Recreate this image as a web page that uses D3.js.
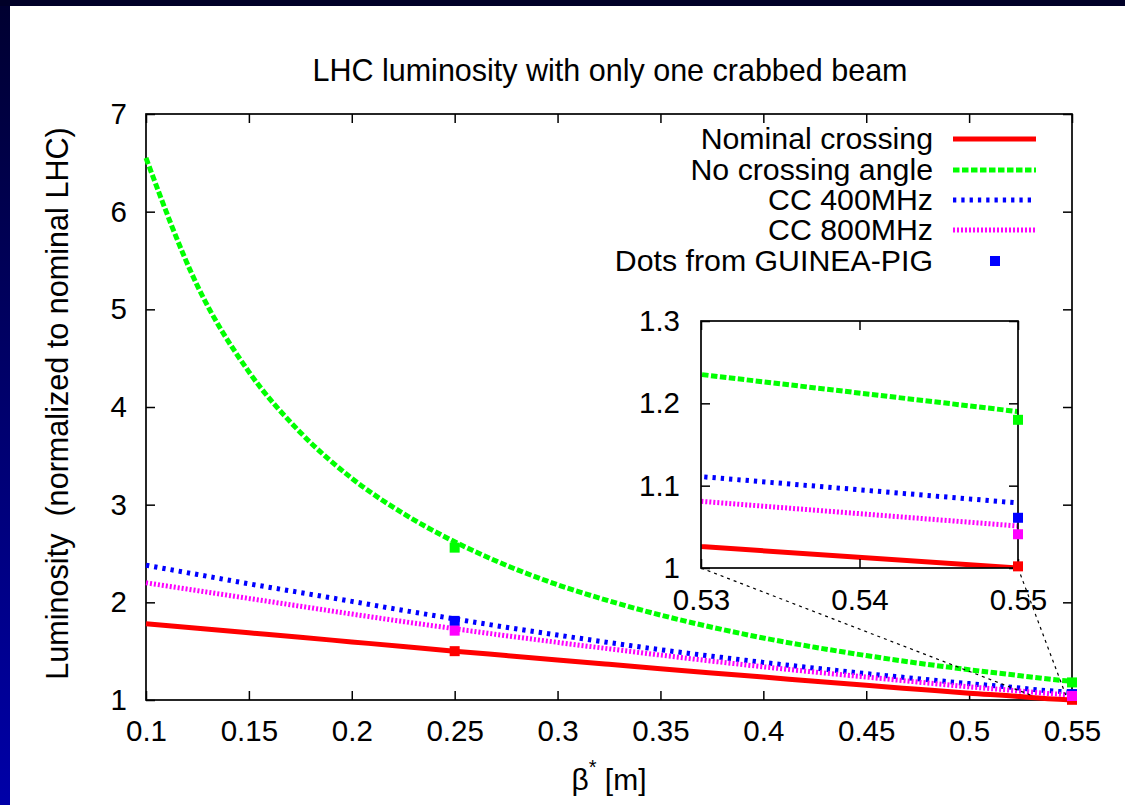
<!DOCTYPE html>
<html>
<head>
<meta charset="utf-8">
<script src="https://cdn.jsdelivr.net/npm/d3@7"></script>
<style>
  html, body { margin: 0; padding: 0; background: #fff; }
  svg { display: block; }
  text { font-family: "Liberation Sans", Arial, Helvetica, sans-serif; fill: #000; }
</style>
</head>
<body>
<svg id="chart" width="1125" height="805"></svg>
<script>
// ---------------- data ----------------
const betaStar = [0.1, 0.125, 0.15, 0.175, 0.2, 0.225, 0.25, 0.275, 0.3, 0.325, 0.35, 0.375, 0.4, 0.425, 0.45, 0.475, 0.5, 0.525, 0.53, 0.55];
const nominalCrossing = [1.78, 1.734, 1.688, 1.642, 1.595, 1.548, 1.50, 1.455, 1.41, 1.365, 1.32, 1.277, 1.235, 1.192, 1.15, 1.11, 1.07, 1.035, 1.026, 1.0];
const noCrossingAngle = [6.55, 5.24, 4.36, 3.74, 3.27, 2.91, 2.62, 2.38, 2.18, 2.015, 1.87, 1.745, 1.635, 1.54, 1.455, 1.378, 1.31, 1.248, 1.235, 1.19];
const cc400 = [2.38, 2.285, 2.19, 2.10, 2.01, 1.918, 1.83, 1.745, 1.665, 1.588, 1.515, 1.448, 1.385, 1.326, 1.27, 1.218, 1.168, 1.122, 1.111, 1.079];
const cc800 = [2.2, 2.12, 2.04, 1.96, 1.88, 1.803, 1.73, 1.658, 1.59, 1.524, 1.46, 1.398, 1.34, 1.286, 1.235, 1.184, 1.135, 1.091, 1.081, 1.051];

const dotBeta = [0.25, 0.55];
const dotsNominal = [1.50, 1.002];
const dotsNoCrossing = [2.56, 1.18];
const dotsCC400 = [1.81, 1.061];
const dotsCC800 = [1.71, 1.041];

const xTicks = [0.1, 0.15, 0.2, 0.25, 0.3, 0.35, 0.4, 0.45, 0.5, 0.55];
const xTickLabels = ["0.1", "0.15", "0.2", "0.25", "0.3", "0.35", "0.4", "0.45", "0.5", "0.55"];
const yTicks = [1, 2, 3, 4, 5, 6, 7];
const yTickLabels = ["1", "2", "3", "4", "5", "6", "7"];
const insetXTicks = [0.53, 0.54, 0.55];
const insetXTickLabels = ["0.53", "0.54", "0.55"];
const insetYTicks = [1, 1.1, 1.2, 1.3];
const insetYTickLabels = ["1", "1.1", "1.2", "1.3"];

const seriesNames = ["Nominal crossing", "No crossing angle", "CC 400MHz", "CC 800MHz"];
const dotLegend = "Dots from GUINEA-PIG";
const titleText = "LHC luminosity with only one crabbed beam";
const yLabelText = "Luminosity  (normalized to nominal LHC)";

// ---------------- styles ----------------
const seriesStyle = [
  { color: "#ff0000", dash: null, width: 5 },
  { color: "#00ff00", dash: "6.5,2.5", width: 5 },
  { color: "#0000ff", dash: "3.3,5", width: 5 },
  { color: "#ff00ff", dash: "2,2", width: 5 }
];
const seriesValues = [nominalCrossing, noCrossingAngle, cc400, cc800];
const dotValues = [dotsNominal, dotsNoCrossing, dotsCC400, dotsCC800];

const svg = d3.select("#chart");

// ---------------- slide background ----------------
const defs = svg.append("defs");
const grad = defs.append("linearGradient").attr("id", "sideGrad")
  .attr("x1", 0).attr("y1", 0).attr("x2", 0).attr("y2", 1);
grad.append("stop").attr("offset", "0%").attr("stop-color", "#000030");
grad.append("stop").attr("offset", "100%").attr("stop-color", "#0000a8");
svg.append("rect").attr("x", 0).attr("y", 0).attr("width", 1125).attr("height", 805).attr("fill", "url(#sideGrad)");
svg.append("rect").attr("x", 0).attr("y", 0).attr("width", 1125).attr("height", 6).attr("fill", "#000028");
svg.append("rect").attr("x", 10).attr("y", 6).attr("width", 1115).attr("height", 799).attr("fill", "#ffffff");

// ---------------- scales ----------------
const x = d3.scaleLinear().domain([0.1, 0.55]).range([146, 1072]);
const y = d3.scaleLinear().domain([1, 7]).range([700, 114]);
const xi = d3.scaleLinear().domain([0.53, 0.55]).range([701, 1018]);
const yi = d3.scaleLinear().domain([1, 1.3]).range([568, 321]);

const FS = 29.5;

function styleAxis(g) {
  g.select(".domain").remove();
  g.selectAll(".tick line").attr("stroke", "#000").attr("stroke-width", 1.5);
  g.selectAll(".tick text").attr("font-size", FS).attr("fill", "#000")
    .style("font-family", '"Liberation Sans", Arial, sans-serif');
}

// ---------------- main axes ----------------
const tickLen = 9;
svg.append("g").attr("transform", `translate(0,${y(1)})`)
  .call(d3.axisBottom(x).tickValues(xTicks).tickSize(-tickLen).tickPadding(20)
    .tickFormat((d, i) => xTickLabels[i]))
  .call(styleAxis);
svg.append("g").attr("transform", `translate(0,${y(7)})`)
  .call(d3.axisTop(x).tickValues(xTicks).tickSize(-tickLen).tickFormat(""))
  .call(styleAxis);
svg.append("g").attr("transform", `translate(${x(0.1)},0)`)
  .call(d3.axisLeft(y).tickValues(yTicks).tickSize(-tickLen).tickPadding(19)
    .tickFormat((d, i) => yTickLabels[i]))
  .call(styleAxis);
svg.append("g").attr("transform", `translate(${x(0.55)},0)`)
  .call(d3.axisRight(y).tickValues(yTicks).tickSize(-tickLen).tickFormat(""))
  .call(styleAxis);

svg.append("rect")
  .attr("x", x(0.1)).attr("y", y(7))
  .attr("width", x(0.55) - x(0.1)).attr("height", y(1) - y(7))
  .attr("fill", "none").attr("stroke", "#000").attr("stroke-width", 1.7);

// ---------------- titles ----------------
svg.append("text").attr("x", 610).attr("y", 81).attr("text-anchor", "middle")
  .attr("font-size", 30.5).text(titleText);

const xl = svg.append("text").attr("x", 609).attr("y", 790).attr("text-anchor", "middle").attr("font-size", 30);
xl.append("tspan").text("β");
xl.append("tspan").attr("dy", -16).attr("font-size", 20).text("*");
xl.append("tspan").attr("dy", 16).text(" [m]");

svg.append("text")
  .attr("transform", `translate(68,${(127 + 680) / 2}) rotate(-90)`)
  .attr("text-anchor", "middle").attr("font-size", 30.6)
  .style("white-space", "pre")
  .text(yLabelText);

// ---------------- main lines ----------------
function drawSeries(g, xs, ys) {
  seriesValues.forEach((vals, k) => {
    const st = seriesStyle[k];
    const line = d3.line().x((d, i) => xs(betaStar[i])).y(d => ys(d)).curve(d3.curveMonotoneX);
    const p = g.append("path").datum(vals)
      .attr("d", line)
      .attr("fill", "none").attr("stroke", st.color).attr("stroke-width", st.width)
      .attr("stroke-linecap", "butt");
    if (st.dash) p.attr("stroke-dasharray", st.dash);
  });
  dotValues.forEach((vals, k) => {
    const st = seriesStyle[k];
    g.selectAll(null).data(vals).enter().append("rect")
      .attr("x", (d, i) => xs(dotBeta[i]) - 5)
      .attr("y", d => ys(d) - 5)
      .attr("width", 10).attr("height", 10)
      .attr("fill", st.color);
  });
}

const mainG = svg.append("g");
drawSeries(mainG, x, y);

// ---------------- connector lines ----------------
const connectors = [
  [[xi(0.53), yi(1)], [x(0.53), y(1.05)]],
  [[xi(0.55), yi(1)], [x(0.547), y(1.05)]]
];
connectors.forEach(c => {
  svg.append("path").attr("d", d3.line()(c))
    .attr("stroke", "#000").attr("stroke-width", 1.2).attr("stroke-dasharray", "3,4")
    .attr("fill", "none");
});

// ---------------- inset ----------------
defs.append("clipPath").attr("id", "insetClip").append("rect")
  .attr("x", xi(0.53)).attr("y", yi(1.3))
  .attr("width", xi(0.55) - xi(0.53)).attr("height", yi(1) - yi(1.3));

svg.append("rect").attr("x", xi(0.53)).attr("y", yi(1.3))
  .attr("width", xi(0.55) - xi(0.53)).attr("height", yi(1) - yi(1.3))
  .attr("fill", "#fff");

const insetG = svg.append("g");
seriesValues.forEach((vals, k) => {
  const st = seriesStyle[k];
  const pts = betaStar.map((b, i) => [b, vals[i]]).filter(d => d[0] >= 0.525);
  const line = d3.line().x(d => xi(d[0])).y(d => yi(d[1]));
  const p = insetG.append("path").datum(pts).attr("d", line)
    .attr("fill", "none").attr("stroke", st.color).attr("stroke-width", st.width)
    .attr("clip-path", "url(#insetClip)");
  if (st.dash) p.attr("stroke-dasharray", st.dash);
});

svg.append("g").attr("transform", `translate(0,${yi(1)})`)
  .call(d3.axisBottom(xi).tickValues(insetXTicks).tickSize(-tickLen).tickPadding(21)
    .tickFormat((d, i) => insetXTickLabels[i]))
  .call(styleAxis);
svg.append("g").attr("transform", `translate(0,${yi(1.3)})`)
  .call(d3.axisTop(xi).tickValues(insetXTicks).tickSize(-tickLen).tickFormat(""))
  .call(styleAxis);
svg.append("g").attr("transform", `translate(${xi(0.53)},0)`)
  .call(d3.axisLeft(yi).tickValues(insetYTicks).tickSize(-tickLen).tickPadding(21)
    .tickFormat((d, i) => insetYTickLabels[i]))
  .call(styleAxis);
svg.append("g").attr("transform", `translate(${xi(0.55)},0)`)
  .call(d3.axisRight(yi).tickValues(insetYTicks).tickSize(-tickLen).tickFormat(""))
  .call(styleAxis);

svg.append("rect").attr("x", xi(0.53)).attr("y", yi(1.3))
  .attr("width", xi(0.55) - xi(0.53)).attr("height", yi(1) - yi(1.3))
  .attr("fill", "none").attr("stroke", "#000").attr("stroke-width", 1.7);

// inset dots (drawn over border)
dotValues.forEach((vals, k) => {
  const st = seriesStyle[k];
  vals.forEach((v, i) => {
    if (dotBeta[i] >= 0.53) {
      svg.append("rect").attr("x", xi(dotBeta[i]) - 5).attr("y", yi(v) - 5)
        .attr("width", 10).attr("height", 10).attr("fill", st.color);
    }
  });
});

// ---------------- legend ----------------
const legend = svg.append("g");
const legendTextX = 933, legendLineX1 = 953, legendLineX2 = 1036;
const legendRowY = [139, 170, 200, 230, 261];
seriesNames.forEach((name, k) => {
  const st = seriesStyle[k];
  legend.append("text").attr("x", legendTextX).attr("y", legendRowY[k] + 10)
    .attr("text-anchor", "end").attr("font-size", 30.3).text(name);
  const l = legend.append("line")
    .attr("x1", legendLineX1).attr("x2", legendLineX2)
    .attr("y1", legendRowY[k]).attr("y2", legendRowY[k])
    .attr("stroke", st.color).attr("stroke-width", st.width);
  if (st.dash) l.attr("stroke-dasharray", st.dash);
});
legend.append("text").attr("x", legendTextX).attr("y", legendRowY[4] + 10)
  .attr("text-anchor", "end").attr("font-size", 30.3).text(dotLegend);
legend.append("rect").attr("x", 995 - 5).attr("y", legendRowY[4] - 5)
  .attr("width", 10).attr("height", 10).attr("fill", "#0000ff");
</script>
</body>
</html>
